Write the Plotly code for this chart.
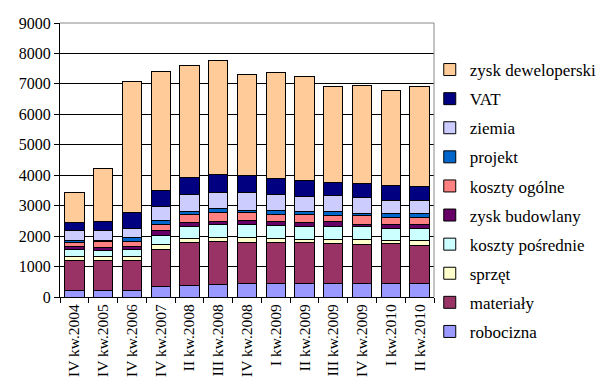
import plotly.graph_objects as go

quarters = ["IV kw.2004", "IV kw.2005", "IV kw.2006", "IV kw.2007", "II kw.2008",
            "III kw.2008", "IV kw.2008", "I kw.2009", "II kw.2009", "III kw.2009",
            "IV kw.2009", "I kw.2010", "II kw.2010"]

robocizna = [220, 220, 220, 350, 385, 400, 435, 435, 435, 435, 435, 435, 430]
materialy = [985, 965, 985, 1215, 1390, 1410, 1360, 1360, 1340, 1320, 1295, 1315, 1270]
sprzet = [130, 130, 130, 155, 155, 155, 165, 120, 110, 120, 165, 120, 165]
koszty_posrednie = [240, 220, 220, 305, 375, 425, 415, 440, 430, 440, 405, 375, 385]
zysk_budowlany = [90, 90, 90, 155, 140, 100, 130, 130, 130, 150, 85, 130, 130]
koszty_ogolne = [120, 185, 185, 210, 265, 285, 285, 240, 265, 220, 295, 240, 240]
projekt = [75, 55, 110, 110, 100, 120, 65, 110, 90, 120, 55, 130, 130]
ziemia = [310, 305, 320, 480, 550, 535, 580, 525, 515, 515, 535, 415, 415]
vat = [285, 320, 525, 515, 550, 585, 570, 540, 505, 450, 465, 515, 460]
zysk_deweloperski = [990, 1745, 4280, 3915, 3690, 3760, 3315, 3465, 3420, 3140, 3215, 3105, 3290]

series = [
    ("robocizna", robocizna, "#9999FF"),
    ("materiały", materialy, "#993366"),
    ("sprzęt", sprzet, "#FFFFCC"),
    ("koszty pośrednie", koszty_posrednie, "#CCFFFF"),
    ("zysk budowlany", zysk_budowlany, "#660066"),
    ("koszty ogólne", koszty_ogolne, "#FF8080"),
    ("projekt", projekt, "#0066CC"),
    ("ziemia", ziemia, "#CCCCFF"),
    ("VAT", vat, "#000080"),
    ("zysk deweloperski", zysk_deweloperski, "#FFCC99"),
]

font_family = "Times New Roman, Liberation Serif, DejaVu Serif, serif"

fig = go.Figure()
n = len(series)
for i, (name, vals, color) in enumerate(series):
    fig.add_trace(go.Bar(
        x=quarters, y=vals, name=name, legendgroup=name,
        legendrank=n - i,
        marker=dict(color=color, line=dict(color="#000000", width=1)),
    ))

fig.update_layout(
    width=607, height=388,
    barmode="stack", bargap=0.33,
    margin=dict(l=60, r=173, t=23, b=91, autoexpand=False),
    paper_bgcolor="white", plot_bgcolor="white",
    font=dict(family=font_family, size=16, color="black"),
    legend=dict(
        xref="container", yref="container",
        x=0.708, xanchor="left", y=0.866, yanchor="top",
        traceorder="grouped", tracegroupgap=4, maxheight=400,
        font=dict(family=font_family, size=17, color="black"),
        bgcolor="rgba(0,0,0,0)",
    ),
    showlegend=True,
    xaxis=dict(
        type="category", tickangle=-90, tickson="boundaries",
        ticks="outside", ticklen=5, tickcolor="black",
        showline=True, linecolor="black", linewidth=1, automargin=False,
        showgrid=False, tickfont=dict(family=font_family, size=15.5),
    ),
    yaxis=dict(
        range=[0, 9000], dtick=1000, ticks="outside", ticklen=5,
        tickcolor="black", showline=True, linecolor="black", linewidth=1,
        showgrid=True, gridcolor="black", gridwidth=1, zeroline=False,
        automargin=False, tickfont=dict(family=font_family, size=16),
    ),
    shapes=[
        dict(type="line", xref="paper", yref="paper", x0=0, x1=1, y0=1, y1=1,
             line=dict(color="#888888", width=1), layer="above"),
        dict(type="line", xref="paper", yref="paper", x0=1, x1=1, y0=0, y1=1,
             line=dict(color="#888888", width=1), layer="above"),
    ],
)

fig.write_html("out.html")
